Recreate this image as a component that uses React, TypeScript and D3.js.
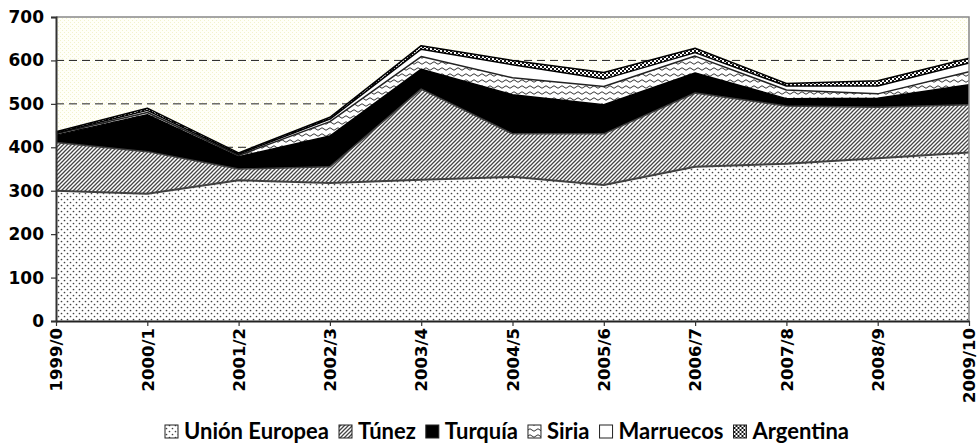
import React, { useEffect, useRef } from "react";
import * as d3 from "d3";

const categories = ["1999/0", "2000/1", "2001/2", "2002/3", "2003/4", "2004/5", "2005/6", "2006/7", "2007/8", "2008/9", "2009/10"];
const seriesNames = ["Unión Europea", "Túnez", "Turquía", "Siria", "Marruecos", "Argentina"];
const unionEuropea = [300, 293, 324, 318, 325, 332, 313, 355, 362, 375, 388];
const tunez = [111, 97, 26, 37, 209, 99, 118, 170, 133, 117, 110];
const turquia = [17, 85, 28, 71, 46, 90, 67, 46, 17, 21, 46];
const siria = [3, 5, 3, 33, 29, 39, 42, 39, 20, 10, 30];
const marruecos = [2, 5, 3, 6, 17, 30, 17, 8, 9, 18, 20];
const argentina = [3, 5, 3, 4, 8, 10, 15, 10, 6, 12, 11];
const yTicks = [0, 100, 200, 300, 400, 500, 600, 700];

const W = 980, H = 445;
const M = { left: 56, right: 969, top: 17, bottom: 321 };
const fills = ["url(#pUE)", "url(#pTun)", "#000", "url(#pSir)", "#fff", "url(#pArg)"];
const strokes = ["#404040", "#404040", "#000", "#222", "#000", "#000"];

export default function App() {
  const ref = useRef<SVGSVGElement>(null);
  useEffect(() => {
    const svg = d3.select(ref.current!);
    svg.selectAll("*").remove();
    const defs = svg.append("defs");

    const bg = defs.append("pattern").attr("id", "pBg").attr("width", 4).attr("height", 4).attr("patternUnits", "userSpaceOnUse");
    bg.append("rect").attr("width", 4).attr("height", 4).attr("fill", "#fffff8");
    bg.append("rect").attr("x", 0).attr("y", 0).attr("width", 1).attr("height", 1).attr("fill", "#f2f2cc");
    bg.append("rect").attr("x", 2).attr("y", 2).attr("width", 1).attr("height", 1).attr("fill", "#f2f2cc");

    const ue = defs.append("pattern").attr("id", "pUE").attr("width", 6).attr("height", 6).attr("patternUnits", "userSpaceOnUse");
    ue.append("rect").attr("width", 6).attr("height", 6).attr("fill", "#fff");
    ue.append("circle").attr("cx", 1.5).attr("cy", 1.5).attr("r", 0.85).attr("fill", "#444");
    ue.append("circle").attr("cx", 4.5).attr("cy", 4.5).attr("r", 0.85).attr("fill", "#444");

    const tn = defs.append("pattern").attr("id", "pTun").attr("width", 4).attr("height", 4).attr("patternUnits", "userSpaceOnUse");
    tn.append("rect").attr("width", 4).attr("height", 4).attr("fill", "#fff");
    tn.append("path").attr("d", "M-1,1 L1,-1 M0,4 L4,0 M3,5 L5,3").attr("stroke", "#444").attr("stroke-width", 1.3);

    const sr = defs.append("pattern").attr("id", "pSir").attr("width", 8).attr("height", 6).attr("patternUnits", "userSpaceOnUse");
    sr.append("rect").attr("width", 8).attr("height", 6).attr("fill", "#fff");
    sr.append("path").attr("d", "M0,3 Q2,0.5 4,3 T8,3").attr("stroke", "#333").attr("stroke-width", 1).attr("fill", "none");

    const ar = defs.append("pattern").attr("id", "pArg").attr("width", 4).attr("height", 4).attr("patternUnits", "userSpaceOnUse");
    ar.append("rect").attr("width", 4).attr("height", 4).attr("fill", "#fff");
    ar.append("rect").attr("x", 0).attr("y", 0).attr("width", 2).attr("height", 2).attr("fill", "#111");
    ar.append("rect").attr("x", 2).attr("y", 2).attr("width", 2).attr("height", 2).attr("fill", "#111");

    const x = d3.scalePoint<string>().domain(categories).range([M.left, M.right]);
    const y = d3.scaleLinear().domain([0, 700]).range([M.bottom, M.top]);

    svg.append("rect").attr("x", M.left).attr("y", M.top).attr("width", M.right - M.left).attr("height", M.bottom - M.top).attr("fill", "url(#pBg)");

    svg.append("g").selectAll("line").data(yTicks.filter(t => t > 0 && t < 700)).join("line")
      .attr("x1", M.left).attr("x2", M.right).attr("y1", d => y(d)).attr("y2", d => y(d))
      .attr("stroke", "#222").attr("stroke-width", 1).attr("stroke-dasharray", "8,5");

    const cols = [unionEuropea, tunez, turquia, siria, marruecos, argentina];
    const rows = categories.map((c, i) => {
      const o: any = { cat: c };
      seriesNames.forEach((s, k) => (o[s] = cols[k][i]));
      return o;
    });
    const stacked = d3.stack<any>().keys(seriesNames)(rows);
    const area = d3.area<any>().x(d => x(d.data.cat)!).y0(d => y(d[0])).y1(d => y(d[1]));
    const topLine = d3.line<any>().x(d => x(d.data.cat)!).y(d => y(d[1]));
    const g = svg.append("g");
    stacked.forEach((s, k) => {
      g.append("path").attr("d", area(s)!).attr("fill", fills[k]).attr("stroke", "none");
    });
    stacked.forEach((s, k) => {
      g.append("path").attr("d", topLine(s)!).attr("fill", "none").attr("stroke", strokes[k]).attr("stroke-width", k === 0 ? 2 : 1.5).attr("stroke-linejoin", "round");
    });

    svg.append("path").attr("d", `M${M.left},${M.top}H${M.right}V${M.bottom}`).attr("fill", "none").attr("stroke", "#888").attr("stroke-width", 1.5);

    const yAxis = svg.append("g").attr("transform", `translate(${M.left},0)`).call(d3.axisLeft(y).tickValues(yTicks).tickSize(5).tickPadding(7));
    yAxis.select(".domain").attr("stroke", "#333").attr("stroke-width", 2);
    yAxis.selectAll(".tick line").attr("stroke", "#333").attr("stroke-width", 1.2);
    yAxis.selectAll("text").attr("font-family", "DejaVu Sans").attr("font-weight", "bold").attr("font-size", 17).attr("fill", "#000");

    const xAxis = svg.append("g").attr("transform", `translate(0,${M.bottom})`).call(d3.axisBottom(x).tickSize(5).tickSizeOuter(0));
    xAxis.select(".domain").attr("stroke", "#222").attr("stroke-width", 2);
    xAxis.selectAll(".tick line").attr("stroke", "#333").attr("stroke-width", 1.2);
    xAxis.selectAll("text")
      .attr("font-family", "DejaVu Sans").attr("font-weight", "bold").attr("font-size", 16.5).attr("fill", "#000")
      .attr("transform", "rotate(-90)").attr("text-anchor", "end").attr("dy", "0.35em").attr("x", -7).attr("y", 0);

    const leg = svg.append("g");
    const legFills = ["url(#pUE)", "url(#pTun)", "#000", "url(#pSir)", "#fff", "url(#pArg)"];
    let cx = 0;
    const items: any[] = [];
    seriesNames.forEach((s, k) => {
      const it = leg.append("g");
      it.append("rect").attr("x", 0).attr("y", -14).attr("width", 13).attr("height", 13).attr("fill", legFills[k]).attr("stroke", "#222").attr("stroke-width", 1);
      const t = it.append("text").attr("x", 19).attr("y", 0).text(s)
        .attr("font-family", "Lato").attr("font-weight", "bold").attr("font-size", 22).attr("fill", "#000");
      const w = (t.node() as SVGTextElement).getComputedTextLength();
      items.push({ it, w });
    });
    items.forEach(({ it, w }) => {
      it.attr("transform", `translate(${cx},0)`);
      cx += 19 + w + 10;
    });
    const total = cx - 10;
    leg.attr("transform", `translate(${(148 + 866) / 2 - total / 2},439)`);
  }, []);
  return <svg ref={ref} width={W} height={H} style={{ position: "absolute", left: 0, top: 0, background: "#fff" }} />;
}
